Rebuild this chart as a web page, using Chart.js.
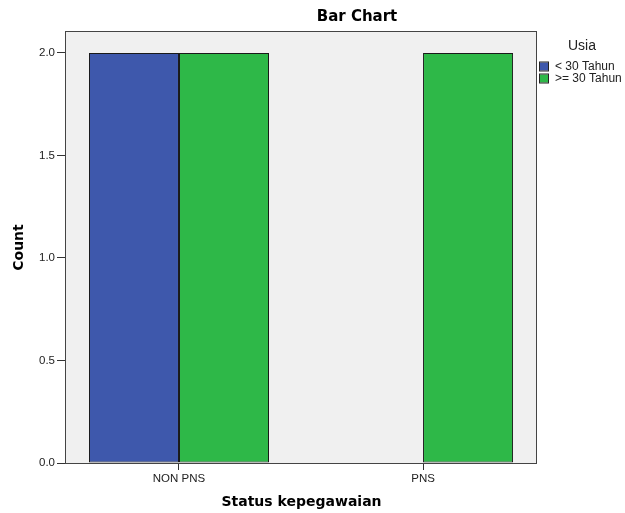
<!DOCTYPE html>
<html><head><meta charset="utf-8">
<script src="https://cdn.jsdelivr.net/npm/chart.js@4.4.1/dist/chart.umd.min.js"></script>
<style>html,body{margin:0;padding:0;background:#fff}#wrap{width:625px;height:513px}</style>
</head><body><div id="wrap"><canvas id="c" width="625" height="513"></canvas></div>
<script>
const categories = ['NON PNS', 'PNS'];
const seriesNames = ['< 30 Tahun', '>= 30 Tahun'];
const under30 = [2, 0];
const over30 = [2, 2];
const yTicks = [0, 0.5, 1.0, 1.5, 2.0];
const chartTitle = 'Bar Chart';
const legendTitle = 'Usia';
const xTitle = 'Status kepegawaian';
const yTitle = 'Count';
const seriesColors = ['#3E58AC', '#2EB848'];

const toPoints = arr => categories.map((c, i) => ({ x: i + 1, y: arr[i] }));

const spssPlugin = {
  id: 'spss',
  beforeDatasetsDraw(chart) {
    const { ctx, chartArea: a } = chart;
    ctx.save();
    ctx.fillStyle = '#F0F0F0';
    ctx.fillRect(a.left, a.top, a.right - a.left, a.bottom - a.top);
    ctx.restore();
  },
  afterDatasetsDraw(chart) {
    const { ctx, chartArea: a } = chart;
    ctx.save();
    ctx.strokeStyle = '#444';
    ctx.lineWidth = 1;
    ctx.strokeRect(a.left - 0.5, a.top - 0.5, a.right - a.left, a.bottom - a.top + 1);
    ctx.restore();
  },
  afterDraw(chart) {
    const { ctx } = chart;
    ctx.save();
    ctx.fillStyle = '#000';
    ctx.textAlign = 'center';
    ctx.textBaseline = 'middle';
    ctx.font = 'bold 15px "DejaVu Sans"';
    ctx.fillText(chartTitle, 357, 17.5);
    ctx.font = '14px "Liberation Sans"';
    ctx.fillStyle = '#222';
    ctx.fillText(legendTitle, 582, 46.5);
    ctx.textAlign = 'left';
    ctx.font = '12px "Liberation Sans"';
    chart.data.datasets.forEach((ds, i) => {
      const cy = 67 + i * 12;
      ctx.fillStyle = ds.backgroundColor;
      ctx.fillRect(540, cy - 4.5, 8, 8);
      ctx.strokeStyle = '#222';
      ctx.lineWidth = 1;
      ctx.strokeRect(539.5, cy - 5, 9, 9);
      ctx.fillStyle = '#222';
      ctx.fillText(ds.label, 555, cy);
    });
    ctx.restore();
  }
};

const barStyle = { borderColor: '#1a1a1a', borderWidth: 1, borderSkipped: false, categoryPercentage: 180 / 244, barPercentage: 1 };

new Chart(document.getElementById('c'), {
  type: 'bar',
  data: {
    datasets: [
      Object.assign({ label: seriesNames[0], data: toPoints(under30), backgroundColor: seriesColors[0] }, barStyle),
      Object.assign({ label: seriesNames[1], data: toPoints(over30), backgroundColor: seriesColors[1] }, barStyle)
    ]
  },
  options: {
    responsive: false,
    animation: false,
    devicePixelRatio: 1,
    layout: { padding: { top: 32, right: 88, bottom: 0, left: 0 } },
    plugins: { legend: { display: false }, title: { display: false }, tooltip: { enabled: false } },
    scales: {
      x: {
        type: 'linear',
        min: 0.537,
        max: 2.467,
        offset: false,
        afterFit: s => { s.height = 50; },
        afterBuildTicks: s => { s.ticks = categories.map((c, i) => ({ value: i + 1 })); },
        grid: { display: true, drawOnChartArea: false, drawTicks: true, tickLength: 7, color: '#333', offset: false },
        border: { display: false },
        ticks: { callback: v => categories[v - 1], color: '#222', font: { family: 'Liberation Sans', size: 11.5 }, padding: 2, maxRotation: 0, autoSkip: false },
        title: { display: true, text: xTitle, color: '#000', font: { family: 'DejaVu Sans', size: 14, weight: 'bold' }, padding: { top: 0, bottom: 2.6 } }
      },
      y: {
        min: 0,
        max: 2.1024,
        afterFit: s => { s.width = 66; },
        afterBuildTicks: s => { s.ticks = yTicks.map(v => ({ value: v })); },
        grid: { display: true, drawOnChartArea: false, drawTicks: true, tickLength: 9, color: '#333' },
        border: { display: false },
        ticks: { callback: v => v.toFixed(1), color: '#222', font: { family: 'Liberation Sans', size: 11.5 }, padding: 2 },
        title: { display: true, text: yTitle, color: '#000', font: { family: 'DejaVu Sans', size: 14, weight: 'bold' }, padding: { top: 10.6, bottom: 0 } }
      }
    }
  },
  plugins: [spssPlugin]
});
</script>
</body></html>
